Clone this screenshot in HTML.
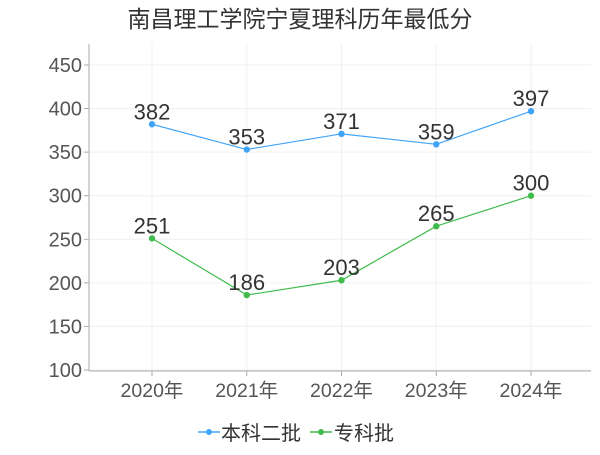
<!DOCTYPE html>
<html><head><meta charset="utf-8"><style>
body{margin:0;background:#fff;width:600px;height:450px;overflow:hidden}
svg text{font-family:"Liberation Sans","Noto Sans CJK SC",sans-serif}
</style></head><body>
<svg width="600" height="450" id="c">
<text x="300" y="27" text-anchor="middle" font-size="23" fill="#333">南昌理工学院宁夏理科历年最低分</text>
<g id="grid"></g><g id="axes"></g><g id="series"></g>
<g>
<g><line x1="198" y1="432" x2="220" y2="432" stroke="#3fa4f8" stroke-width="1.5"/><circle cx="209" cy="432" r="3" fill="#3fa4f8"/><text x="221" y="440" font-size="20" fill="#333">本科二批</text></g>
<g><line x1="310" y1="432" x2="332" y2="432" stroke="#3fbc4c" stroke-width="1.5"/><circle cx="321" cy="432" r="3" fill="#3fbc4c"/><text x="334" y="440" font-size="20" fill="#333">专科批</text></g>
</g>
</svg>
<script>
const categories=["2020年","2021年","2022年","2023年","2024年"];
const benke=[382,353,371,359,397];
const zhuanke=[251,186,203,265,300];
const yTicks=[100,150,200,250,300,350,400,450];
const NS="http://www.w3.org/2000/svg";
function X(i){return 152+i*94.75;}
function Y(v){return 370-(v-100)*(370-65)/350;}
function mk(t,a,p){const e=document.createElementNS(NS,t);for(const k in a)e.setAttribute(k,a[k]);p.appendChild(e);return e;}
const grid=document.getElementById('grid'),axes=document.getElementById('axes'),ser=document.getElementById('series');
yTicks.forEach(v=>{
 const g=mk('line',{x1:90,x2:591,y1:Y(v),y2:Y(v),stroke:'#f0f0f0'},grid);
 
 
 const t=mk('text',{x:82,y:Y(v)+7,'text-anchor':'end','font-size':20,fill:'#555'},axes);
 t.textContent=v;
 
 
 mk('line',{x1:84,x2:89,y1:Y(v),y2:Y(v),stroke:'#aaa'},axes);
});
categories.forEach((c,i)=>{
 const g=mk('line',{x1:X(i),x2:X(i),y1:44,y2:371,stroke:'#f0f0f0'},grid);
 
 
 mk('line',{x1:X(i),x2:X(i),y1:371,y2:376,stroke:'#aaa'},axes);
 const t=mk('text',{x:X(i),y:397,'text-anchor':'middle','font-size':19.5,fill:'#555'},axes);
 t.textContent=c;
 
 
});
const ya=mk('line',{x1:89,x2:89,y1:44,y2:371,stroke:'#aaa'},axes);


const xa=mk('line',{x1:89,x2:591,y1:371,y2:371,stroke:'#aaa'},axes);


function drawSeries(vals,color,name){
 const pl=mk('polyline',{points:vals.map((v,i)=>X(i)+','+Y(v)).join(' '),fill:'none',stroke:color,'stroke-width':1.2},ser);
 
 
 vals.forEach((v,i)=>{
  const c=mk('circle',{cx:X(i),cy:Y(v),r:3.2,fill:color},ser);
  
  
  const t=mk('text',{x:X(i),y:Y(v)-5,'text-anchor':'middle','font-size':22,fill:'#333'},ser);
  t.textContent=v;
  
  
 });
}
drawSeries(benke,'#3fa4f8','benke');
drawSeries(zhuanke,'#3fbc4c','zhuanke');
</script>
</body></html>
